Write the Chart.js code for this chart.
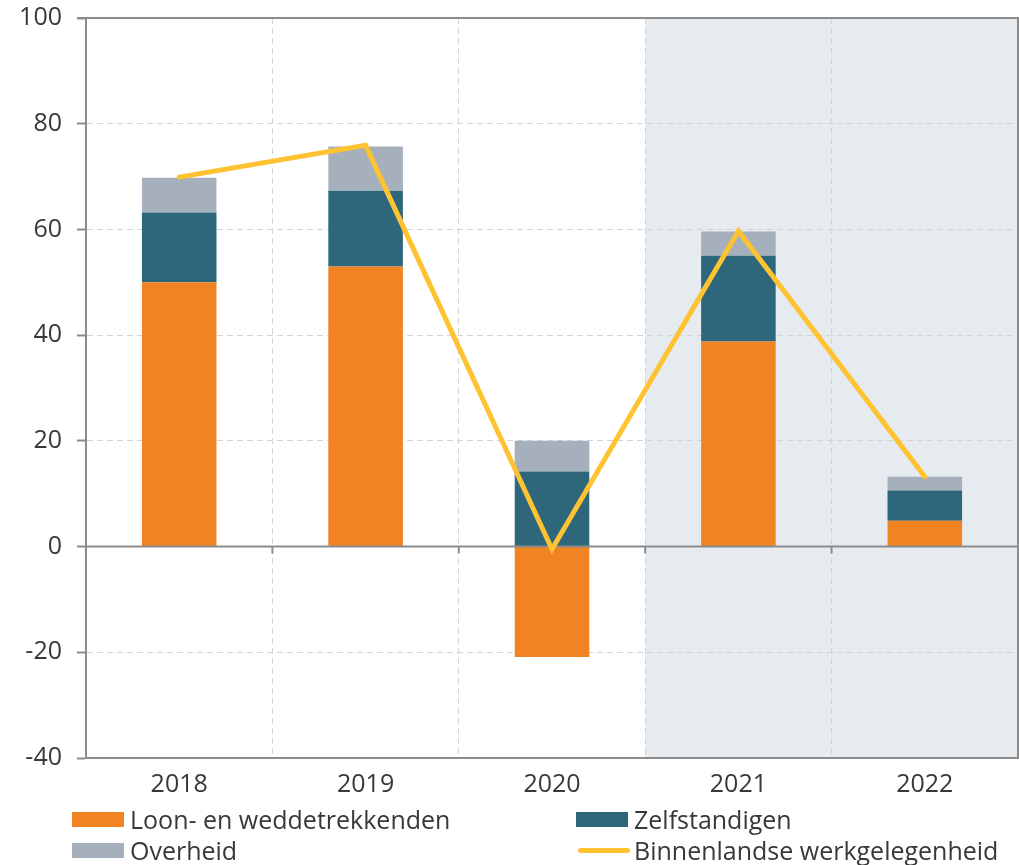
<!DOCTYPE html>
<html>
<head>
<meta charset="utf-8">
<script src="https://cdn.jsdelivr.net/npm/chart.js@4.4.1/dist/chart.umd.min.js"></script>
<style>
  body { margin: 0; background: #fff; }
  #wrap { position: relative; width: 1019px; height: 865px; }
  #legend .item {
    position: absolute; display: flex; align-items: center;
    font: 25px 'Open Sans', sans-serif; color: #383838; white-space: nowrap;
  }
  #legend .swatch { width: 52px; height: 15px; margin-right: 6px; }
  #legend .swatch.line { height: 5px; border-radius: 3px; margin-left: 2px; margin-right: 4px; }
</style>
</head>
<body>
<div id="wrap">
  <canvas id="chart" width="1019" height="865"></canvas>
  <div id="legend"></div>
</div>
<script>
// data
const years = ['2018', '2019', '2020', '2021', '2022'];
const loon = [50.0, 53.0, -20.9, 38.8, 4.9];
const zelfstandigen = [13.2, 14.3, 14.2, 16.2, 5.7];
const overheid = [6.6, 8.4, 5.8, 4.6, 2.6];
const binnenlands = [69.9, 75.9, -0.5, 59.7, 13.2];
const shadedFrom = '2021'; // forecast years
const yMin = -40, yMax = 100, yStep = 20;

const axisColor = '#8c8c8c';
const gridColor = '#d4d4d4';
const textColor = '#383838';
const clear = 'rgba(0,0,0,0)';

Chart.defaults.font.family = "'Open Sans', sans-serif";
Chart.defaults.font.size = 25;
Chart.defaults.color = textColor;

const halfCat = (x) => (x.getPixelForValue(1) - x.getPixelForValue(0)) / 2;

// shaded forecast area, zero axis with ticks, top/right frame
const framePlugin = {
  id: 'frame',
  beforeDraw(chart) {
    const { ctx, chartArea: a, scales: { x } } = chart;
    const left = x.getPixelForValue(years.indexOf(shadedFrom)) - halfCat(x);
    ctx.save();
    ctx.fillStyle = '#e5ebef';
    ctx.fillRect(left, a.top, a.right - left, a.bottom - a.top);
    ctx.restore();
  },
  beforeDatasetDraw(chart, args) {
    if (args.meta.type !== 'line') return;
    const { ctx, chartArea: a, scales: { x, y } } = chart;
    const y0 = y.getPixelForValue(0);
    const h = halfCat(x);
    ctx.save();
    ctx.strokeStyle = axisColor;
    ctx.lineWidth = 2;
    ctx.beginPath();
    ctx.moveTo(a.left, y0);
    ctx.lineTo(a.right, y0);
    for (let i = 1; i < years.length; i++) {
      const px = x.getPixelForValue(i) - h;
      ctx.moveTo(px, y0);
      ctx.lineTo(px, y0 + 7);
    }
    ctx.stroke();
    ctx.restore();
  },
  afterDraw(chart) {
    const { ctx, chartArea: a } = chart;
    ctx.save();
    ctx.strokeStyle = axisColor;
    ctx.lineWidth = 2;
    ctx.beginPath();
    ctx.moveTo(a.left - 9, a.top);
    ctx.lineTo(a.right, a.top);
    ctx.lineTo(a.right, a.bottom);
    ctx.stroke();
    ctx.restore();
  }
};

const datasets = [
  {
    type: 'line', label: 'Binnenlandse werkgelegenheid', data: binnenlands,
    borderColor: '#ffc231', backgroundColor: '#ffc231', borderWidth: 5,
    borderCapStyle: 'round', borderJoinStyle: 'miter',
    pointRadius: 0, stack: 'line', order: 0, tension: 0
  },
  { label: 'Loon- en weddetrekkenden', data: loon, backgroundColor: '#f28322', order: 1 },
  { label: 'Zelfstandigen', data: zelfstandigen, backgroundColor: '#2e667b', order: 1 },
  { label: 'Overheid', data: overheid, backgroundColor: '#a6b0bc', order: 1 }
];
datasets.slice(1).forEach(d => {
  d.type = 'bar';
  d.stack = 'bars';
  d.barPercentage = 0.4;
  d.categoryPercentage = 1;
  d.borderWidth = 0;
});

new Chart(document.getElementById('chart'), {
  type: 'bar',
  data: { labels: years, datasets },
  options: {
    responsive: false,
    animation: false,
    layout: { padding: { top: 18, right: 1, bottom: 65, left: 0 } },
    plugins: { legend: { display: false }, tooltip: { enabled: false } },
    scales: {
      x: {
        stacked: true,
        offset: true,
        grid: {
          offset: true, drawTicks: false, lineWidth: 1,
          color: (c) => (c.index === 0 || c.index >= years.length) ? clear : gridColor
        },
        border: { color: axisColor, width: 2, dash: [6, 4] },
        ticks: { padding: 12, color: textColor },
        afterFit(s) { s.height = 42; s.paddingLeft = 0; s.paddingRight = 0; }
      },
      y: {
        stacked: true,
        min: yMin, max: yMax,
        ticks: { stepSize: yStep, padding: 15, color: textColor },
        grid: {
          lineWidth: 1,
          color: (c) => (c.tick && [yMin, 0, yMax].includes(c.tick.value)) ? clear : gridColor,
          tickColor: axisColor, tickLength: 9, tickWidth: 2, tickBorderDash: []
        },
        border: { color: axisColor, width: 2, dash: [6, 4] },
        afterFit(s) { s.width = 86; s.paddingTop = 0; s.paddingBottom = 0; }
      }
    }
  },
  plugins: [framePlugin]
});

// legend in the reference order: two columns
const legendOrder = ['Loon- en weddetrekkenden', 'Zelfstandigen', 'Overheid', 'Binnenlandse werkgelegenheid'];
const colLeft = [72, 576];
const rowMid = [819, 850];
const legend = document.getElementById('legend');
legendOrder.forEach((name, i) => {
  const ds = datasets.find(d => d.label === name);
  const item = document.createElement('div');
  item.className = 'item';
  item.style.left = colLeft[i % 2] + 'px';
  item.style.top = (rowMid[Math.floor(i / 2)] - 17) + 'px';
  item.style.height = '34px';
  const sw = document.createElement('span');
  sw.className = 'swatch' + (ds.type === 'line' ? ' line' : '');
  sw.style.background = ds.backgroundColor;
  item.appendChild(sw);
  item.appendChild(document.createTextNode(name));
  legend.appendChild(item);
});
</script>
</body>
</html>
